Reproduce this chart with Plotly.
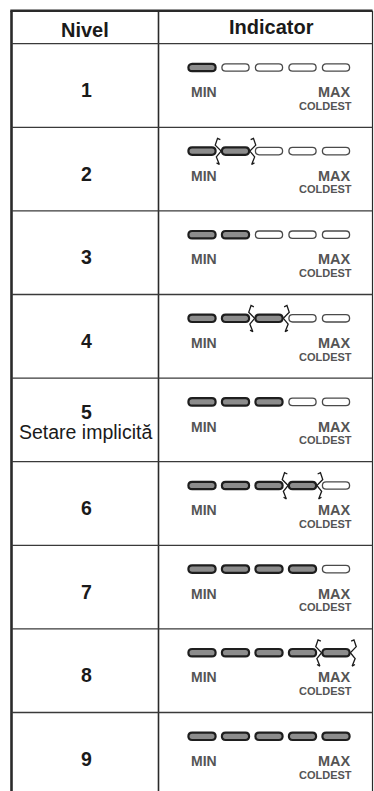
import plotly.graph_objects as go

# ---------------- data ----------------
levels = ["1", "2", "3", "4", "5", "6", "7", "8", "9"]
level_notes = ["", "", "", "", "Setare implicită", "", "", "", ""]
segments_on = [1, 2, 2, 3, 3, 4, 4, 5, 5]          # lit segments per level
blinking = [False, True, False, True, False, True, False, True, False]  # last lit segment blinks
n_segments = 5
header_labels = ["Nivel", "Indicator"]
scale_min_label = "MIN"
scale_max_label = "MAX"
scale_max_note = "COLDEST"

# ---------------- geometry (pixel layout helpers) ----------------
W, H = 374, 791
SEG_PX, SEG1_PX = 33.5, 202.0      # pixel spacing / position of segment 1
ROW_PX, ROW0_PX = 83.6, 43.7       # pixel height of a row / header bottom


def X(px):
    return 1 + (px - SEG1_PX) / SEG_PX


def Y(py):
    return (py - ROW0_PX) / ROW_PX


def dx(px):
    return px / SEG_PX


def dy(py):
    return py / ROW_PX


FONT = "Liberation Sans, Arial, sans-serif"
LINE = "#2a2a2a"
fig = go.Figure()
shapes = []
annotations = []

# table grid
x_left, x_div, x_right = X(11.5), X(158.5), X(372.5)
y_top = Y(10.8)
shapes.append(dict(type="line", x0=X(10.3), x1=x_right, y0=y_top, y1=y_top,
                   line=dict(color=LINE, width=2.6)))
shapes.append(dict(type="line", x0=x_left, x1=x_left, y0=y_top, y1=Y(H),
                   line=dict(color=LINE, width=2.6)))
shapes.append(dict(type="line", x0=x_div, x1=x_div, y0=y_top, y1=Y(H),
                   line=dict(color=LINE, width=1.6)))
shapes.append(dict(type="line", x0=x_right, x1=x_right, y0=y_top, y1=Y(H),
                   line=dict(color=LINE, width=1.2)))
for k in range(len(levels)):
    shapes.append(dict(type="line", x0=x_left, x1=x_right, y0=k, y1=k,
                       line=dict(color="#3a3a3a", width=1.3)))

# header
annotations.append(dict(x=X(85), y=Y(30), text=f"<b>{header_labels[0]}</b>",
                        font=dict(size=20, color="#1a1a1a", family=FONT)))
annotations.append(dict(x=X(271.5), y=Y(26.5), text=f"<b>{header_labels[1]}</b>",
                        font=dict(size=20, color="#1a1a1a", family=FONT)))


def pill_path(cx, cy):
    hw, hh, rx = dx(13.6), dy(3.7), dx(3.7)
    k = 4.0 / 3.0
    a, b = cx - hw + rx, cx + hw - rx
    t, u = cy - hh, cy + hh
    return (f"M {a},{t} L {b},{t} C {b + k * rx},{t} {b + k * rx},{u} {b},{u} "
            f"L {a},{u} C {a - k * rx},{u} {a - k * rx},{t} {a},{t} Z")


# lightning-style blink mark (left side; mirrored for the right side), px offsets
zig_left = [(1.6, -11.5), (-1.2, -12.8), (-3.5, -6), (2.4, 0), (-2.4, 5.8), (0.6, 13.4), (-2.2, 11.8)]

for i, lvl in enumerate(levels):
    top = i  # row top in data units
    pill_y = top + dy(23.8)
    # level label
    if level_notes[i]:
        annotations.append(dict(x=X(86), y=top + dy(34), text=f"<b>{lvl}</b>",
                                font=dict(size=19.5, color="#1a1a1a", family=FONT)))
        annotations.append(dict(x=X(85), y=top + dy(53.5), text=level_notes[i],
                                font=dict(size=19.5, color="#1a1a1a", family=FONT)))
    else:
        annotations.append(dict(x=X(86.5), y=top + dy(46.5), text=f"<b>{lvl}</b>",
                                font=dict(size=19.5, color="#1a1a1a", family=FONT)))
    # segments
    for s in range(1, n_segments + 1):
        on = s <= segments_on[i]
        shapes.append(dict(type="path", path=pill_path(s, pill_y),
                           fillcolor="#8c8c8c" if on else "#ffffff",
                           line=dict(color="#1e1e1e" if on else "#4a4a4a",
                                     width=2.2 if on else 1.3)))
    # blink marks around the last lit segment
    if blinking[i]:
        s = segments_on[i]
        for side in (-1, 1):
            bx = s + side * 0.5
            xs = [bx + dx(p[0] if side == -1 else -p[0]) for p in zig_left]
            ys = [pill_y + dy(p[1]) for p in zig_left]
            fig.add_trace(go.Scatter(x=xs, y=ys, mode="lines",
                                     line=dict(color="#1a1a1a", width=1.3),
                                     hoverinfo="skip", showlegend=False))
    # scale labels
    annotations.append(dict(x=X(188.5), y=top + dy(48.5), xanchor="left",
                            text=f"<b>{scale_min_label}</b>",
                            font=dict(size=14, color="#555555", family=FONT)))
    annotations.append(dict(x=X(353), y=top + dy(48.5), xanchor="right",
                            text=f"<b>{scale_max_label}</b>",
                            font=dict(size=14.5, color="#555555", family=FONT)))
    annotations.append(dict(x=X(353.5), y=top + dy(62), xanchor="right",
                            text=f"<b>{scale_max_note}</b>",
                            font=dict(size=11, color="#555555", family=FONT)))

for a in annotations:
    a.update(xref="x", yref="y", showarrow=False,
             yanchor=a.get("yanchor", "middle"), xanchor=a.get("xanchor", "center"))

fig.update_layout(
    width=W, height=H, autosize=False,
    margin=dict(l=0, r=0, t=0, b=0),
    paper_bgcolor="white", plot_bgcolor="white",
    shapes=shapes, annotations=annotations, showlegend=False,
    xaxis=dict(range=[X(0), X(W)], visible=False, fixedrange=True),
    yaxis=dict(range=[Y(H), Y(0)], visible=False, fixedrange=True),
)

fig.write_html("out.html", config={"displayModeBar": False},
               post_script="document.body.style.margin='0';document.body.style.overflow='hidden';")
